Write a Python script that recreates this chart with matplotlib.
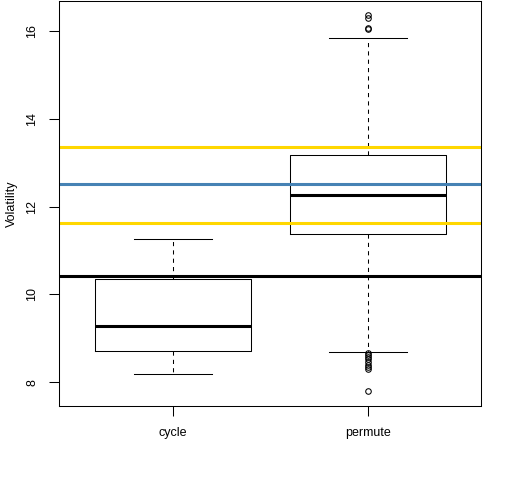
import matplotlib
matplotlib.use("Agg")
import matplotlib.pyplot as plt

plt.rcParams['font.family'] = ['Liberation Sans', 'DejaVu Sans']

# box statistics
groups = ['cycle', 'permute']
q1 = [8.72, 11.37]
med = [9.28, 12.26]
q3 = [10.35, 13.18]
whislo = [8.18, 8.69]
whishi = [11.26, 15.84]
fliers = [[], [16.36, 16.30, 16.07, 16.05, 8.66, 8.62, 8.57, 8.52, 8.46, 8.40, 8.34, 8.30, 7.80]]

# reference levels
ref_black = 10.42
ref_blue = 12.52
ref_gold = [11.63, 13.36]

stats = []
for i in range(len(groups)):
    stats.append(dict(label=groups[i], q1=q1[i], med=med[i], q3=q3[i],
                      whislo=whislo[i], whishi=whishi[i], fliers=fliers[i]))

fig = plt.figure(figsize=(5.12, 4.8), dpi=100)
ax = fig.add_axes([0.116, 0.1535, 0.824, 0.8437])

ax.bxp(stats, positions=[1, 2], widths=0.8, showfliers=True,
       boxprops=dict(color='black', linewidth=0.75),
       medianprops=dict(color='black', linewidth=2.2, solid_capstyle='butt'),
       whiskerprops=dict(color='black', linewidth=0.75, linestyle=(0, (4, 4))),
       capprops=dict(color='black', linewidth=0.75),
       capwidths=0.4,
       flierprops=dict(marker='o', markerfacecolor='none', markeredgecolor='black',
                       markersize=4, markeredgewidth=0.75))

ax.axhline(ref_black, color='black', linewidth=2.2)
ax.axhline(ref_blue, color='steelblue', linewidth=2.2)
for g in ref_gold:
    ax.axhline(g, color='gold', linewidth=2.2)

ax.set_xlim(0.42, 2.58)
ax.set_ylim(7.45, 16.68)
ax.set_yticks([8, 10, 12, 14, 16])
ax.set_yticklabels(['8', '10', '12', '14', '16'], rotation=90, va='center')
ax.set_xticks([1, 2])
ax.set_xticklabels(groups)
ax.tick_params(axis='both', length=7, width=0.75, labelsize=9, pad=8)
ax.set_ylabel('Volatility', fontsize=9, labelpad=6)
for s in ax.spines.values():
    s.set_linewidth(0.75)

fig.savefig('out.png', dpi=100)
